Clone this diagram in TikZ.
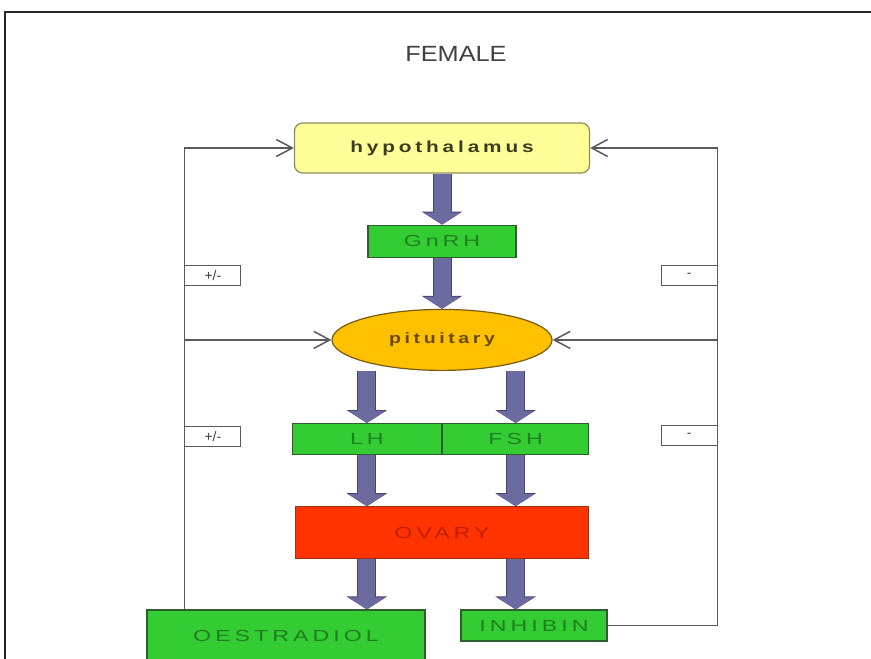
\documentclass[tikz,border=0pt]{standalone}
\usepackage{fontspec}
\setmainfont{Liberation Sans}
\newfontfamily\boxfont[FakeStretch=1.45,LetterSpace=25]{Liberation Sans}
\newfontfamily\glandfont[FakeStretch=1.3,LetterSpace=24]{Liberation Sans Bold}
\newfontfamily\titlefont[FakeStretch=1.15]{Liberation Sans}
\usetikzlibrary{arrows.meta,positioning,shapes.geometric,calc}
\definecolor{ink}{HTML}{404040}
\definecolor{fbgray}{HTML}{5A5A5A}
\definecolor{hypofill}{HTML}{FFFF99}
\definecolor{hypoedge}{HTML}{8C8C5A}
\definecolor{hypotext}{HTML}{3C3C1E}
\definecolor{hgreen}{HTML}{33CC33}
\definecolor{hgreenedge}{HTML}{2E5E2E}
\definecolor{hgreentext}{HTML}{1F7F1F}
\definecolor{pitfill}{HTML}{FFC000}
\definecolor{pitedge}{HTML}{7A5A10}
\definecolor{pittext}{HTML}{6B4A00}
\definecolor{ovfill}{HTML}{FF3300}
\definecolor{ovedge}{HTML}{A03010}
\definecolor{ovtext}{HTML}{C01E00}
\definecolor{slate}{HTML}{6B6BA0}
\definecolor{slateedge}{HTML}{45456F}
\tikzset{
  box/.style={line width=1.2pt, inner sep=0pt, align=center,
    font=\boxfont\fontsize{16pt}{18pt}\selectfont},
  gland/.style={box, draw=hypoedge, fill=hypofill, text=hypotext, rounded corners=8pt,
    font=\glandfont\fontsize{16pt}{18pt}\selectfont},
  hormone/.style={box, draw=hgreenedge, fill=hgreen, text=hgreentext},
  sign/.style={draw=fbgray, fill=white, line width=1pt, text=ink, inner sep=0pt,
    minimum width=56pt, minimum height=20pt, font=\fontsize{14pt}{16pt}\selectfont},
  feedback/.style={draw=fbgray, line width=1.5pt, -{Straight Barb[length=16pt,width=17pt]}},
  bigarrow/.style={draw=slateedge, line width=19pt, -{Triangle[length=13pt,width=40pt]},
    postaction={draw=slate, line width=17pt, -{Triangle[length=12pt,width=37pt]}}}
}
\begin{document}
\begin{tikzpicture}[x=1pt, y=-1pt]
  \useasboundingbox (0,0) rectangle (871,659);
  \draw[line width=2pt, draw=black!85] (5,659) -- (5,12) -- (871,12);

  \node[font=\titlefont\fontsize{22pt}{24pt}\selectfont, text=ink] (title) at (456,54) {FEMALE};

  % glands
  \node[gland, minimum width=295pt, minimum height=50pt] (hypo) at (442,148) {hypothalamus};
  \node[hormone, minimum width=148pt, minimum height=32pt, below=51pt of hypo] (gnrh) {GnRH};
  \node[gland, ellipse, draw=pitedge, fill=pitfill, text=pittext, minimum width=220pt, minimum height=61pt,
    font=\glandfont\fontsize{15pt}{17pt}\selectfont, below=51pt of gnrh] (pit) {pituitary};
  \node[hormone, minimum width=149pt, minimum height=31pt, anchor=north east] (lh) at ([yshift=-52pt]pit.south) {LH};
  \node[hormone, minimum width=146pt, minimum height=31pt, anchor=north west] (fsh) at ([yshift=-52pt]pit.south) {FSH};
  \node[box, draw=ovedge, fill=ovfill, text=ovtext, minimum width=293pt, minimum height=52pt,
    below=51pt of lh.south east] (ovary) {OVARY};
  \node[hormone, minimum width=278pt, minimum height=51pt, below=50pt of ovary, xshift=-156pt] (oest) {OESTRADIOL};
  \node[hormone, minimum width=146pt, minimum height=31pt, below=50pt of ovary, xshift=92pt] (inhib) {INHIBIN};

  % hormone flow
  \draw[bigarrow] (hypo.south) -- (gnrh.north);
  \draw[bigarrow] (gnrh.south) -- (pit.north);
  \draw[bigarrow] (lh.north |- pit.south) -- (lh.north);
  \draw[bigarrow] (fsh.north |- pit.south) -- (fsh.north);
  \draw[bigarrow] (lh.south) -- (lh.south |- ovary.north);
  \draw[bigarrow] (fsh.south) -- (fsh.south |- ovary.north);
  \draw[bigarrow] (lh.south |- ovary.south) -- (lh.south |- oest.north);
  \draw[bigarrow] (fsh.south |- ovary.south) -- (fsh.south |- inhib.north);

  % feedback loops
  \coordinate (fbl) at ([xshift=38pt]oest.north west);
  \coordinate (fbr) at ([xshift=110pt]inhib.east);
  \draw[feedback] (fbl) |- (hypo.west);
  \draw[feedback] (fbl |- pit.west) -- (pit.west);
  \draw[feedback] (inhib.east) -- (fbr |- inhib.east) |- (hypo.east);
  \draw[feedback] (fbr |- pit.east) -- (pit.east);

  \node[sign, anchor=west, yshift=-18pt] (s1) at (fbl |- gnrh.south) {+/-};
  \node[sign, anchor=west, yshift=3pt] (s2) at (fbl |- lh.west) {+/-};
  \node[sign, anchor=east, yshift=-18pt] (s3) at (fbr |- gnrh.south) {-};
  \node[sign, anchor=east, yshift=4pt] (s4) at (fbr |- lh.west) {-};
\end{tikzpicture}
\end{document}
